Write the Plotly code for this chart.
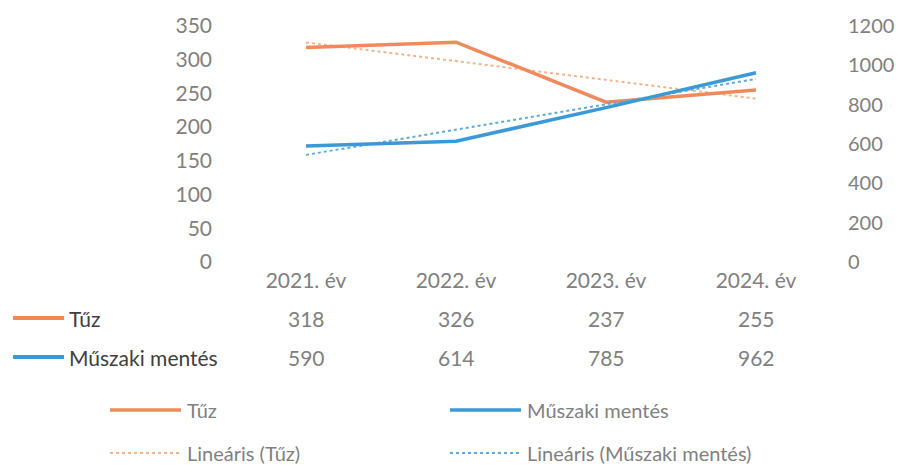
import numpy as np
import plotly.graph_objects as go

categories = ["2021. év", "2022. év", "2023. év", "2024. év"]
tuz = [318, 326, 237, 255]
muszaki = [590, 614, 785, 962]
series_names = ["Tűz", "Műszaki mentés"]
trend_names = ["Lineáris (Tűz)", "Lineáris (Műszaki mentés)"]
left_ticks = [0, 50, 100, 150, 200, 250, 300, 350]
right_ticks = [0, 200, 400, 600, 800, 1000, 1200]

ORANGE = "#F08A5A"
BLUE = "#3B9AD6"
ORANGE_T = "#F3B48E"
BLUE_T = "#5FAADB"
GREY = "#808080"
DARK = "#404040"
FONT = "Lato"

xi = np.arange(1, len(categories) + 1)
tz_fit = np.polyval(np.polyfit(xi, tuz, 1), xi)
mm_fit = np.polyval(np.polyfit(xi, muszaki, 1), xi)

fig = go.Figure()
fig.add_trace(go.Scatter(x=categories, y=tz_fit, mode="lines", name=trend_names[0],
                         line=dict(color=ORANGE_T, width=2, dash="dot"), yaxis="y"))
fig.add_trace(go.Scatter(x=categories, y=mm_fit, mode="lines", name=trend_names[1],
                         line=dict(color=BLUE_T, width=2, dash="dot"), yaxis="y2"))
fig.add_trace(go.Scatter(x=categories, y=tuz, mode="lines", name=series_names[0],
                         line=dict(color=ORANGE, width=3.5), yaxis="y"))
fig.add_trace(go.Scatter(x=categories, y=muszaki, mode="lines", name=series_names[1],
                         line=dict(color=BLUE, width=3.5), yaxis="y2"))

tick_font = dict(family=FONT, size=21, color=GREY)

fig.update_layout(
    width=903, height=466,
    margin=dict(l=223, r=80, t=18, b=212),
    paper_bgcolor="white", plot_bgcolor="white",
    showlegend=False,
    font=dict(family=FONT, size=21, color=GREY),
    xaxis=dict(type="category", range=[-0.5, 3.5], showgrid=False, zeroline=False,
               showline=False, ticks="", tickfont=tick_font,
               ticklabelstandoff=4, automargin=False),
    yaxis=dict(range=[0, 350], tickvals=left_ticks, showgrid=False, zeroline=False,
               showline=False, ticks="", tickfont=tick_font, ticklabelstandoff=18,
               automargin=False),
    yaxis2=dict(range=[0, 1200], tickvals=right_ticks, overlaying="y", side="right",
                showgrid=False, zeroline=False, showline=False, ticks="",
                tickfont=dict(family=FONT, size=20, color=GREY),
                ticklabelstandoff=16, automargin=False),
)

PL, PW, PB, PH = 231, 600, 262, 236  # plot area in reference pixels

def px_x(x):
    return (x - PL) / PW

def px_y(y):
    return (PB - y) / PH

# Data table rows
rows = [(series_names[0], tuz, ORANGE, 318), (series_names[1], muszaki, BLUE, 357)]
for name, vals, col, ypx in rows:
    yp = px_y(ypx)
    fig.add_shape(type="line", xref="paper", yref="paper",
                  x0=px_x(13), x1=px_x(64), y0=yp, y1=yp,
                  line=dict(color=col, width=4))
    fig.add_annotation(xref="paper", yref="paper", x=px_x(67), y=yp,
                       text=name, showarrow=False, xanchor="left", yanchor="middle",
                       font=dict(family=FONT, size=21, color=DARK))
    for c, v in zip(categories, vals):
        fig.add_annotation(xref="x", yref="paper", x=c, y=yp, text=str(v),
                           showarrow=False, xanchor="center", yanchor="middle",
                           font=dict(family=FONT, size=21, color=GREY))

# Legend (2 x 2)
legend_items = [
    (series_names[0], ORANGE, 3.5, "solid", 110, 410),
    (series_names[1], BLUE, 3.5, "solid", 450, 410),
    (trend_names[0], ORANGE_T, 2, "dot", 110, 453),
    (trend_names[1], BLUE_T, 2, "dot", 450, 453),
]
for text, col, w, dash, xpx, ypx in legend_items:
    yp = px_y(ypx)
    fig.add_shape(type="line", xref="paper", yref="paper",
                  x0=px_x(xpx), x1=px_x(xpx + 71), y0=yp, y1=yp,
                  line=dict(color=col, width=w, dash=dash))
    fig.add_annotation(xref="paper", yref="paper", x=px_x(xpx + 75), y=yp,
                       text=text, showarrow=False, xanchor="left", yanchor="middle",
                       font=dict(family=FONT, size=20, color=GREY))

fig.write_html("out.html")
